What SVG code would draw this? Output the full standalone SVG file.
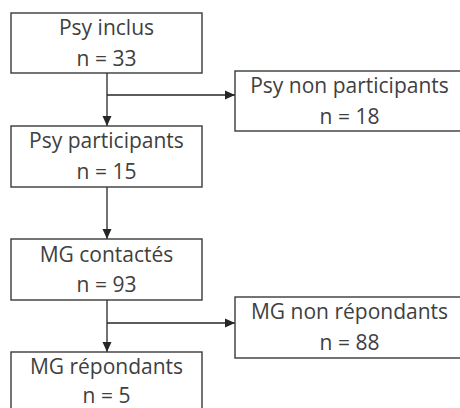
<svg xmlns="http://www.w3.org/2000/svg" width="460" height="408" viewBox="0 0 460 408">
<defs>
<style>
.box{fill:#fff;stroke:#3a3a3a;stroke-width:1.4}
.t{font-family:"Open Sans","Liberation Sans",sans-serif;font-size:21px;fill:#404040;text-anchor:middle}
.c{fill:none;stroke:#262626;stroke-width:1.3}
</style>
<marker id="ah" markerWidth="10" markerHeight="10" refX="10" refY="5" orient="auto" markerUnits="userSpaceOnUse" viewBox="0 0 10 10">
<path d="M0,0.5 L10,5 L0,9.5 Z" fill="#262626"/>
</marker>
</defs>
<rect width="460" height="408" fill="#fff"/>
<g id="connectors">
<line class="c" x1="107" y1="73" x2="107" y2="126" marker-end="url(#ah)"/>
<line class="c" x1="107" y1="95" x2="235" y2="95" marker-end="url(#ah)"/>
<line class="c" x1="107" y1="187" x2="107" y2="239" marker-end="url(#ah)"/>
<line class="c" x1="107" y1="300" x2="107" y2="352" marker-end="url(#ah)"/>
<line class="c" x1="107" y1="323" x2="235" y2="323" marker-end="url(#ah)"/>
</g>
<g id="psy-inclus">
<rect class="box" x="11" y="13" width="191" height="60"/>
<text class="t" x="106.5" y="35">Psy inclus</text>
<text class="t" x="106.5" y="65.5">n = 33</text>
</g>
<g id="psy-non-participants">
<rect class="box" x="235" y="71" width="228" height="60"/>
<text class="t" x="349.5" y="93">Psy non participants</text>
<text class="t" x="349.5" y="123.5">n = 18</text>
</g>
<g id="psy-participants">
<rect class="box" x="11" y="126" width="191" height="61"/>
<text class="t" x="106.5" y="148">Psy participants</text>
<text class="t" x="106.5" y="179">n = 15</text>
</g>
<g id="mg-contactes">
<rect class="box" x="11" y="239" width="191" height="61"/>
<text class="t" x="106.5" y="261.5">MG contactés</text>
<text class="t" x="106.5" y="292">n = 93</text>
</g>
<g id="mg-non-repondants">
<rect class="box" x="235" y="297" width="228" height="61"/>
<text class="t" x="349.5" y="319">MG non répondants</text>
<text class="t" x="349.5" y="349.5">n = 88</text>
</g>
<g id="mg-repondants">
<rect class="box" x="11" y="352" width="191" height="61"/>
<text class="t" x="106.5" y="374">MG répondants</text>
<text class="t" x="106.5" y="403">n = 5</text>
</g>
</svg>
